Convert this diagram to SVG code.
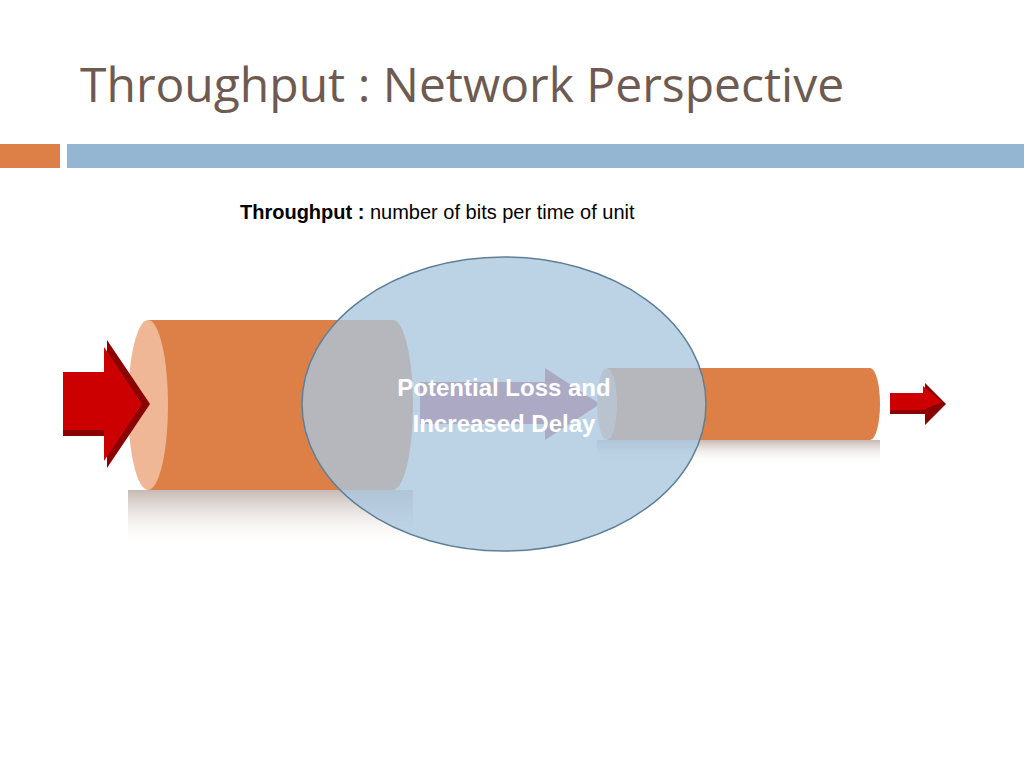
<svg xmlns="http://www.w3.org/2000/svg" width="1024" height="768" viewBox="0 0 1024 768">
<style>
.t{font-family:"Liberation Sans",Arial,sans-serif}
.cyl{fill:#dd8047}
</style>
<defs>
<linearGradient id="refl" x1="0" y1="0" x2="0" y2="1">
<stop offset="0" stop-color="#b8a8a0" stop-opacity="0.8"/>
<stop offset="1" stop-color="#ffffff" stop-opacity="0"/>
</linearGradient>
</defs>
<rect width="1024" height="768" fill="#fff"/>
<text x="80" y="102" font-family="'Open Sans',Lato,sans-serif" font-size="48" fill="#6e5a50">Throughput : Network Perspective</text>
<rect x="0" y="144" width="60" height="24" fill="#dd8047"/>
<rect x="67" y="144" width="957" height="24" fill="#94b6d2"/>
<text class="t" x="240" y="219" font-size="20" fill="#000"><tspan font-weight="bold">Throughput : </tspan>number of bits per time of unit</text>

<g id="bigpipe">
<rect x="128" y="490" width="285" height="58" fill="url(#refl)"/>
<rect class="cyl" x="148" y="320" width="245" height="170"/>
<ellipse class="cyl" cx="393" cy="405" rx="20" ry="85"/>
<ellipse cx="148" cy="405" rx="20" ry="85" fill="#efb796"/>
</g>
<g id="inarrow">
<polygon points="63,372 107,372 107,340 150,404 107,468 107,436 63,436" fill="#8b0000"/>
<polygon points="63,372 104,372 104,347 142,404 104,461 104,430 63,430" fill="#cc0000"/>
</g>
<g id="midarrow">
<polygon points="420,382 545,382 545,368 600,404 545,440 545,424 420,424" fill="#b04060"/>
</g>
<g id="smallpipe">
<rect x="597" y="440" width="283" height="24" fill="url(#refl)"/>
<rect class="cyl" x="607" y="368" width="263" height="72"/>
<ellipse class="cyl" cx="870" cy="404" rx="10" ry="36"/>
<ellipse cx="607" cy="404" rx="10" ry="36" fill="#efb796"/>
</g>
<g id="outarrow">
<polygon points="890,393 925,393 925,383 946,404 925,425 925,414 890,414" fill="#8b0000"/>
<polygon points="890,393 923,393 923,386 942,402 923,410 890,410" fill="#cc0000"/>
</g>
<g id="cloud">
<ellipse cx="504" cy="404" rx="202" ry="147" fill="#a9c6df" fill-opacity="0.78" stroke="#5f7f96" stroke-width="1.5"/>
<text class="t" x="504" y="396" font-size="24" font-weight="bold" fill="#fff" text-anchor="middle">Potential Loss and</text>
<text class="t" x="504" y="432" font-size="24" font-weight="bold" fill="#fff" text-anchor="middle">Increased Delay</text>
</g>
</svg>
